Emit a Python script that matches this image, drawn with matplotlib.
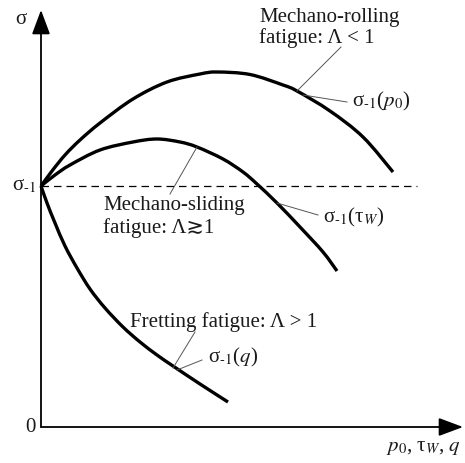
import matplotlib
matplotlib.use('Agg')
import matplotlib.pyplot as plt
import numpy as np
from matplotlib.path import Path
from matplotlib.patches import PathPatch

plt.rcParams['font.family'] = ['Liberation Serif', 'DejaVu Sans']
plt.rcParams['mathtext.fontset'] = 'stix'

# fatigue limit level sigma_-1
sigma_lim = 2.41

# sigma_-1(p0): mechano-rolling fatigue
x_roll = [0, 0.11, 0.24, 0.39, 0.59, 0.92, 1.26, 1.59, 1.76, 2.09, 2.42, 2.56, 2.89, 3.22, 3.52]
y_roll = [2.41, 2.56, 2.72, 2.87, 3.04, 3.28, 3.45, 3.53, 3.55, 3.525, 3.42, 3.36, 3.16, 2.90, 2.55]

# sigma_-1(tau_W): mechano-sliding fatigue
x_slide = [0, 0.14, 0.29, 0.59, 0.92, 1.16, 1.39, 1.56, 1.82, 2.02, 2.16, 2.36, 2.59, 2.82, 2.96]
y_slide = [2.41, 2.52, 2.62, 2.77, 2.85, 2.88, 2.85, 2.80, 2.68, 2.55, 2.43, 2.24, 2.00, 1.75, 1.56]

# sigma_-1(q): fretting fatigue
x_fret = [0, 0.06, 0.14, 0.24, 0.36, 0.49, 0.64, 0.82, 0.99, 1.16, 1.32, 1.59, 1.87]
y_fret = [2.41, 2.24, 2.04, 1.81, 1.59, 1.38, 1.19, 1.00, 0.85, 0.72, 0.61, 0.43, 0.25]


def smooth_path(xs, ys):
    # cubic Bezier segments passing through every given point
    p = np.column_stack([xs, ys]).astype(float)
    n = len(p)
    verts = [p[0]]
    codes = [Path.MOVETO]
    for i in range(n - 1):
        prev = p[i - 1] if i > 0 else p[i]
        nxt = p[i + 2] if i + 2 < n else p[i + 1]
        c1 = p[i] + (p[i + 1] - prev) / 6
        c2 = p[i + 1] - (nxt - p[i]) / 6
        verts += [c1, c2, p[i + 1]]
        codes += [Path.CURVE4] * 3
    return Path(verts, codes)


fig = plt.figure(figsize=(4.65, 4.63), dpi=100)
ax = fig.add_axes([0, 0, 1, 1])
ax.set_xlim(-0.41, 4.24)
ax.set_ylim(-0.36, 4.27)
ax.axis('off')

txt = '#1a1a1a'
lead = '#555555'
fs = 15

# axes with arrow heads
arr = dict(arrowstyle='-|>,head_length=0.75,head_width=0.28', lw=1.3, color='k',
           shrinkA=0, shrinkB=0, mutation_scale=20)
ax.annotate('', xy=(0, 4.17), xytext=(0, 0), arrowprops=arr)
ax.annotate('', xy=(4.22, 0), xytext=(0, 0), arrowprops=arr)

# dashed fatigue limit
ax.plot([0, 3.76], [sigma_lim, sigma_lim], color='k', lw=0.9, ls=(0, (6, 4)))

# curves
for xs, ys in [(x_roll, y_roll), (x_slide, y_slide), (x_fret, y_fret)]:
    ax.add_patch(PathPatch(smooth_path(xs, ys), fill=False, edgecolor='k', lw=2.4,
                           capstyle='butt', joinstyle='round'))

sub = r'$_{\mathrm{\text{-}1}}$'

# axis labels
ax.text(-0.20, 4.07, 'σ', fontsize=fs, color=txt, ha='center', va='center')
ax.text(-0.05, sigma_lim, 'σ' + sub, fontsize=fs, color=txt, ha='right', va='center')
ax.text(-0.11, 0.0, '0', fontsize=fs, color=txt, ha='center', va='center')
ax.text(4.20, -0.24, '$p_0$, τ$_W$, $q$', fontsize=fs, color=txt, ha='right', va='baseline')

# leader lines
leaders = [
    ((3.00, 3.80), (2.56, 3.36)),
    ((2.62, 3.32), (3.06, 3.25)),
    ((1.56, 2.80), (1.29, 2.33)),
    ((2.36, 2.24), (2.77, 2.12)),
    ((1.32, 0.59), (1.54, 0.95)),
    ((1.36, 0.57), (1.61, 0.67)),
]
for (x0, y0), (x1, y1) in leaders:
    ax.plot([x0, x1], [y0, y1], color=lead, lw=0.7)

# annotations
ax.text(2.18, 4.05, 'Mechano-rolling', fontsize=fs, color=txt, ha='left', va='baseline')
ax.text(2.18, 3.84, 'fatigue: Λ < 1', fontsize=fs, color=txt, ha='left', va='baseline')
ax.text(3.11, 3.26, 'σ' + sub + '($p_0$)', fontsize=fs, color=txt, ha='left', va='center')

ax.text(0.62, 2.17, 'Mechano-sliding', fontsize=fs, color=txt, ha='left', va='baseline')
ax.text(0.62, 1.94, 'fatigue: Λ≳1', fontsize=fs, color=txt, ha='left', va='baseline')
ax.text(2.82, 2.10, 'σ' + sub + '(τ$_W$)', fontsize=fs, color=txt, ha='left', va='center')

ax.text(0.89, 1.00, 'Fretting fatigue: Λ > 1', fontsize=fs, color=txt, ha='left', va='baseline')
ax.text(1.67, 0.70, 'σ' + sub + '($q$)', fontsize=fs, color=txt, ha='left', va='center')

fig.savefig('out.png', dpi=100)
